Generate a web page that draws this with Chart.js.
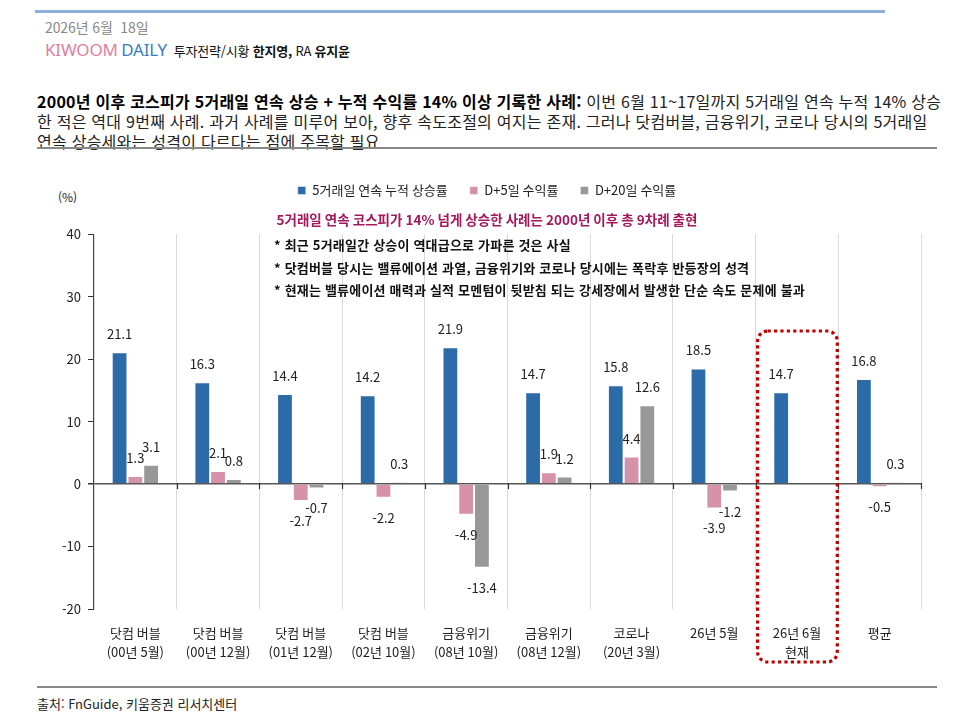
<!DOCTYPE html>
<html lang="ko">
<head>
<meta charset="utf-8">
<script src="https://cdn.jsdelivr.net/npm/chart.js@4.4.1/dist/chart.umd.min.js"></script>
<style>
  body { margin: 0; background: #fff; font-family: "Noto Sans CJK KR", "Noto Sans", sans-serif; }
  #page { position: relative; width: 974px; height: 727px; overflow: hidden; }
  .abs { position: absolute; white-space: pre; }
  #topline { left: 35px; top: 10px; width: 850px; height: 3px; background: #8dafd8; }
  #date { left: 45px; top: 17px; font-size: 14px; color: #888; line-height: 20px; letter-spacing: -0.1px; }
  #brand { left: 45px; top: 39px; line-height: 22px; font-size: 13px; color: #111; letter-spacing: -0.2px; }
  #brand .k { color: #e0809f; font-size: 17px; font-family: "Noto Sans", sans-serif; letter-spacing: -0.2px; }
  #brand .d { color: #3b7dc4; font-size: 17px; font-family: "Noto Sans", sans-serif; letter-spacing: -0.2px; }
  #headline { left: 37px; top: 91px; font-size: 16px; line-height: 20px; color: #222; letter-spacing: 0.25px; }
  #headline b { color: #000; }
  #hline1 { left: 37px; top: 147px; width: 900px; height: 2px; background: #888; }
  #pct { left: 58px; top: 188px; font-size: 12px; color: #222; }
  #bullets { left: 274px; top: 234px; font-size: 13px; line-height: 22.5px; font-weight: bold; color: #111; letter-spacing: 0.2px; z-index: 2; }
  #hline2 { left: 37px; top: 686px; width: 900px; height: 2px; background: #888; }
  #source { left: 37px; top: 694px; font-size: 13px; line-height: 20px; color: #222; letter-spacing: 0px; }
  #chartBox { position: absolute; left: 0; top: 162px; width: 974px; height: 517px; }
</style>
</head>
<body>
<div id="page">
  <div class="abs" id="topline"></div>
  <div class="abs" id="date">2026년 6월  18일</div>
  <div class="abs" id="brand"><span class="k">KIWOOM</span> <span class="d">DAILY</span>  투자전략/시황 <b>한지영,</b> RA <b>유지윤</b></div>
  <div class="abs" id="headline"><b>2000년 이후 코스피가 5거래일 연속 상승 + 누적 수익률 14% 이상 기록한 사례:</b> 이번 6월 11~17일까지 5거래일 연속 누적 14% 상승
한 적은 역대 9번째 사례. 과거 사례를 미루어 보아, 향후 속도조절의 여지는 존재. 그러나 닷컴버블, 금융위기, 코로나 당시의 5거래일
연속 상승세와는 성격이 다르다는 점에 주목할 필요</div>
  <div class="abs" id="hline1"></div>
  <div class="abs" id="pct">(%)</div>
  <div id="chartBox"><canvas id="chart" width="974" height="517"></canvas></div>
  <div class="abs" id="bullets">* 최근 5거래일간 상승이 역대급으로 가파른 것은 사실
* 닷컴버블 당시는 밸류에이션 과열, 금융위기와 코로나 당시에는 폭락후 반등장의 성격
* 현재는 밸류에이션 매력과 실적 모멘텀이 뒷받침 되는 강세장에서 발생한 단순 속도 문제에 불과</div>
  <div class="abs" id="hline2"></div>
  <div class="abs" id="source">출처: FnGuide, 키움증권 리서치센터</div>
</div>
<script>
// categories and series
const categories = [
  ['닷컴 버블', '(00년 5월)'],
  ['닷컴 버블', '(00년 12월)'],
  ['닷컴 버블', '(01년 12월)'],
  ['닷컴 버블', '(02년 10월)'],
  ['금융위기', '(08년 10월)'],
  ['금융위기', '(08년 12월)'],
  ['코로나', '(20년 3월)'],
  ['26년 5월'],
  ['26년 6월', '현재'],
  ['평균']
];
const cumulative5d = [21.1, 16.3, 14.4, 14.2, 21.9, 14.7, 15.8, 18.5, 14.7, 16.8];
const returnD5 = [1.3, 2.1, -2.7, -2.2, -4.9, 1.9, 4.4, -3.9, null, -0.5];
const returnD20 = [3.1, 0.8, -0.7, 0.3, -13.4, 1.2, 12.6, -1.2, null, 0.3];
const seriesNames = ['5거래일 연속 누적 상승률', 'D+5일 수익률', 'D+20일 수익률'];
const yTicks = [-20, -10, 0, 10, 20, 30, 40];
const highlightIndex = 8;

const KR = '"Noto Sans CJK KR", "Noto Sans", sans-serif';

// value labels above / below each bar
const barLabels = {
  id: 'barLabels',
  afterDatasetsDraw(chart) {
    const ctx = chart.ctx;
    ctx.save();
    ctx.font = '13px ' + KR;
    ctx.fillStyle = '#222';
    ctx.textAlign = 'center';
    ctx.textBaseline = 'middle';
    chart.data.datasets.forEach((ds, i) => {
      chart.getDatasetMeta(i).data.forEach((bar, j) => {
        const v = ds.data[j];
        if (v === null) return;
        const y = v >= 0 ? bar.y - 18 : bar.y + 20;
        ctx.fillText(v.toFixed(1), bar.x, y);
      });
    });
    ctx.restore();
  }
};

// tick marks on the zero line and the dotted box round the current case
const extras = {
  id: 'extras',
  afterDraw(chart) {
    const ctx = chart.ctx;
    const x = chart.scales.x, y = chart.scales.y;
    const y0 = y.getPixelForValue(0);
    const step = (chart.chartArea.right - chart.chartArea.left) / categories.length;
    ctx.save();
    ctx.strokeStyle = '#333';
    ctx.lineWidth = 1.2;
    for (let i = 1; i <= categories.length; i++) {
      const px = Math.round(chart.chartArea.left + i * step) + 0.5;
      ctx.beginPath();
      ctx.moveTo(px, y0 - 1);
      ctx.lineTo(px, y0 + 5);
      ctx.stroke();
    }
    // dotted highlight
    const cx = x.getPixelForValue(highlightIndex);
    const left = cx - step / 2 + 2, right = cx + step / 2 - 1;
    const top = y.getPixelForValue(24.5), bottom = chart.chartArea.bottom + 53;
    ctx.strokeStyle = '#c00000';
    ctx.lineWidth = 3.2;
    ctx.setLineDash([3.2, 3.2]);
    ctx.beginPath();
    ctx.roundRect(left, top, right - left, bottom - top, 10);
    ctx.stroke();
    ctx.restore();
  }
};

new Chart(document.getElementById('chart'), {
  type: 'bar',
  data: {
    labels: categories,
    datasets: [
      { label: seriesNames[0], data: cumulative5d, backgroundColor: '#2c6ba8', borderColor: 'rgba(255,255,255,0.45)', borderWidth: 1 },
      { label: seriesNames[1], data: returnD5, backgroundColor: '#d592a8', borderColor: 'rgba(255,255,255,0.45)', borderWidth: 1 },
      { label: seriesNames[2], data: returnD20, backgroundColor: '#989898', borderColor: 'rgba(255,255,255,0.45)', borderWidth: 1 }
    ]
  },
  options: {
    responsive: false,
    animation: false,
    maintainAspectRatio: false,
    layout: { padding: { left: 53, right: 53, top: 0, bottom: 0 } },
    datasets: { bar: { categoryPercentage: 0.572, barPercentage: 1 } },
    plugins: {
      legend: {
        position: 'top',
        weight: 3000,
        labels: {
          boxWidth: 8,
          boxHeight: 8,
          padding: 22,
          color: '#222',
          font: { size: 13, family: KR }
        }
      },
      title: {
        display: true,
        text: '5거래일 연속 코스피가 14% 넘게 상승한 사례는 2000년 이후 총 9차례 출현',
        color: '#a3195b',
        font: { size: 13.5, weight: 'bold', family: KR },
        padding: { top: 5, bottom: 6 }
      },
      tooltip: { enabled: false }
    },
    scales: {
      x: {
        grid: { color: '#d9d9d9', drawTicks: false, offset: true },
        border: { display: false },
        ticks: { color: '#222', padding: 14, font: { size: 13, family: KR, lineHeight: 1.5 } },
        afterFit: s => { s.height = 70; }
      },
      y: {
        min: -20,
        max: 40,
        afterBuildTicks: s => { s.ticks = yTicks.map(v => ({ value: v })); },
        grid: {
          color: c => (c.tick && c.tick.value === 0 ? '#555' : 'rgba(0,0,0,0)'),
          lineWidth: c => (c.tick && c.tick.value === 0 ? 1.5 : 1),
          tickColor: '#333',
          tickLength: 6
        },
        border: { display: true, color: '#444', width: 1.2 },
        ticks: { color: '#222', padding: 7, font: { size: 13, family: KR } },
        afterFit: s => { s.width = 41; }
      }
    }
  },
  plugins: [barLabels, extras]
});
</script>
</body>
</html>
